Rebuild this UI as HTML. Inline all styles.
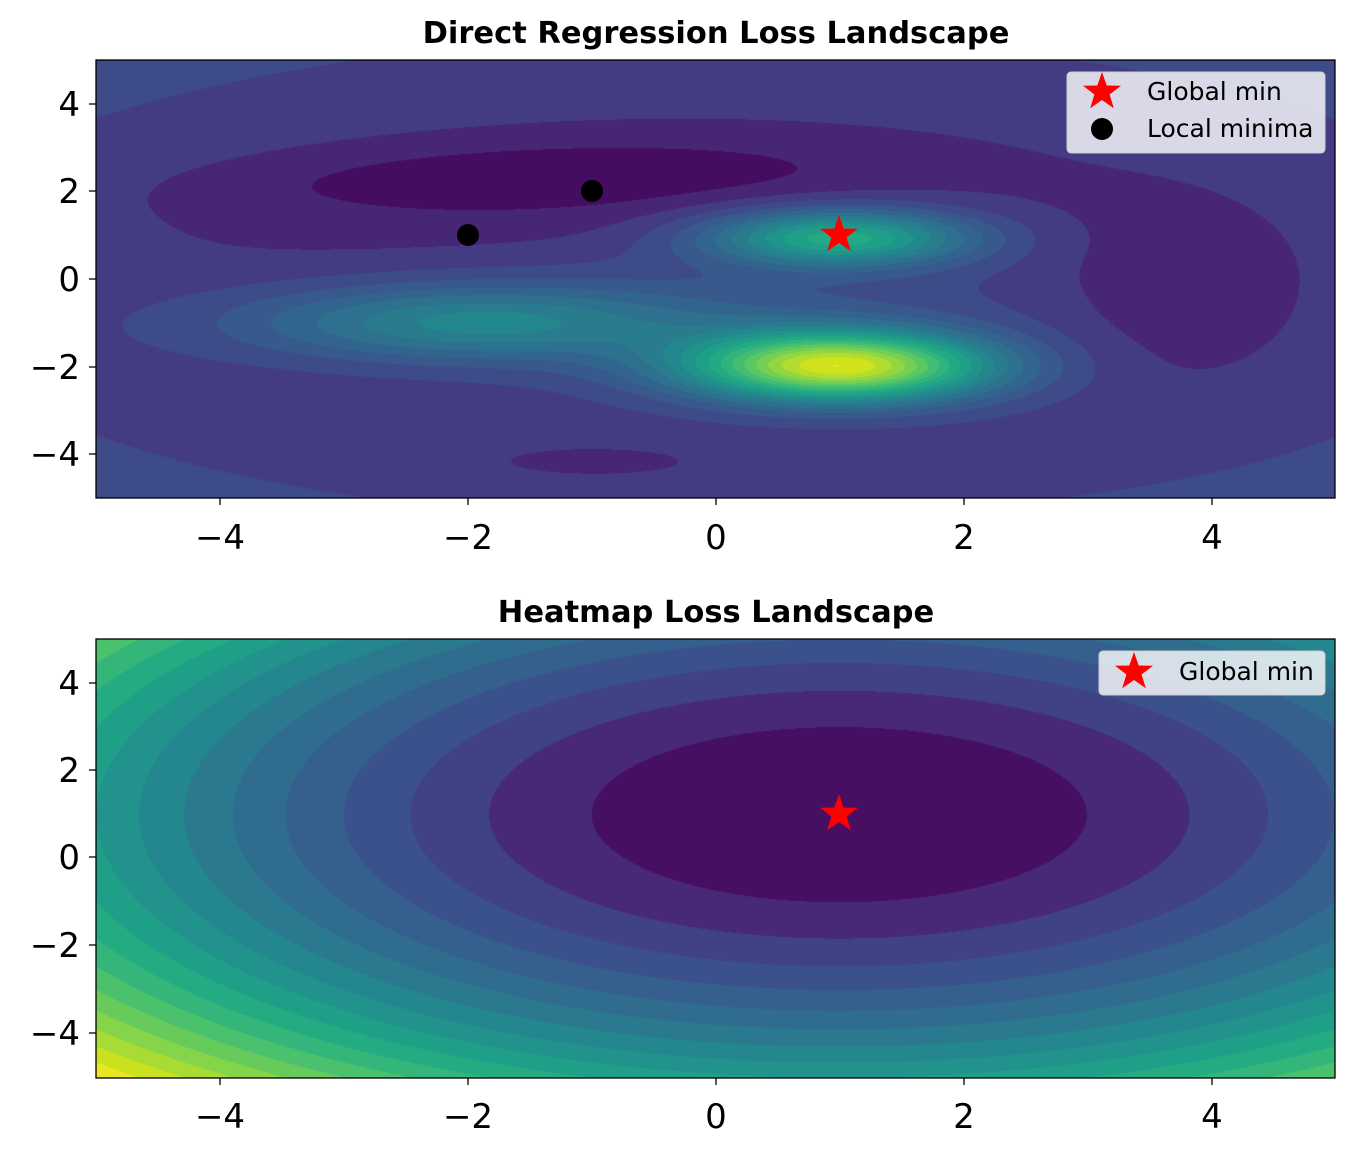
<!DOCTYPE html>
<html><head><meta charset="utf-8"><style>
body{margin:0;background:#fff;width:1356px;height:1155px;overflow:hidden;position:relative;font-family:"Liberation Sans","DejaVu Sans",sans-serif}
canvas{position:absolute}
svg{position:absolute;left:0;top:0}
</style></head><body>
<canvas id="c1" width="1239" height="438" style="left:96px;top:60px"></canvas>
<canvas id="c2" width="1239" height="439" style="left:96px;top:639px"></canvas>
<svg width="1356" height="1155" font-family="DejaVu Sans, Liberation Sans, sans-serif">
<g fill="none" stroke="#000" stroke-width="1.3">
<rect x="96" y="60" width="1239" height="438"/>
<rect x="96" y="639" width="1239" height="439"/>
</g>
<g stroke="#000" stroke-width="1.3">
<line x1="220" y1="498" x2="220" y2="505"/><line x1="468" y1="498" x2="468" y2="505"/><line x1="716" y1="498" x2="716" y2="505"/><line x1="964" y1="498" x2="964" y2="505"/><line x1="1212" y1="498" x2="1212" y2="505"/>
<line x1="89" y1="104" x2="96" y2="104"/><line x1="89" y1="191" x2="96" y2="191"/><line x1="89" y1="279" x2="96" y2="279"/><line x1="89" y1="367" x2="96" y2="367"/><line x1="89" y1="454" x2="96" y2="454"/>
<line x1="220" y1="1078" x2="220" y2="1085"/><line x1="468" y1="1078" x2="468" y2="1085"/><line x1="716" y1="1078" x2="716" y2="1085"/><line x1="964" y1="1078" x2="964" y2="1085"/><line x1="1212" y1="1078" x2="1212" y2="1085"/>
<line x1="89" y1="683" x2="96" y2="683"/><line x1="89" y1="770" x2="96" y2="770"/><line x1="89" y1="857" x2="96" y2="857"/><line x1="89" y1="945" x2="96" y2="945"/><line x1="89" y1="1033" x2="96" y2="1033"/>
</g>
<g font-size="34" fill="#000" text-anchor="middle">
<text x="220" y="549">−4</text><text x="468" y="549">−2</text><text x="716" y="549">0</text><text x="964" y="549">2</text><text x="1212" y="549">4</text>
<text x="220" y="1128">−4</text><text x="468" y="1128">−2</text><text x="716" y="1128">0</text><text x="964" y="1128">2</text><text x="1212" y="1128">4</text>
</g>
<g font-size="34" fill="#000" text-anchor="end">
<text x="80" y="116">4</text><text x="80" y="203">2</text><text x="80" y="291">0</text><text x="80" y="379">−2</text><text x="80" y="466">−4</text>
<text x="80" y="695">4</text><text x="80" y="782">2</text><text x="80" y="869">0</text><text x="80" y="957">−2</text><text x="80" y="1045">−4</text>
</g>
<g font-size="30.5" font-weight="bold" text-anchor="middle">
<text x="716" y="43">Direct Regression Loss Landscape</text>
<text x="716" y="622">Heatmap Loss Landscape</text>
</g>
<defs><polygon id="star" points="0,-20 4.7,-6.5 19,-6.2 7.6,2.5 11.8,16.2 0,8 -11.8,16.2 -7.6,2.5 -19,-6.2 -4.7,-6.5"/></defs>
<use href="#star" x="839" y="235" fill="#f00"/>
<circle cx="468" cy="235" r="11" fill="#000"/>
<circle cx="592" cy="191" r="11" fill="#000"/>
<use href="#star" x="839" y="814" fill="#f00"/>
<rect x="1067" y="72" width="258" height="81" rx="4" fill="#fff" fill-opacity="0.8" stroke="#ccc"/>
<use href="#star" x="1102" y="92" fill="#f00"/>
<circle cx="1102" cy="129" r="11" fill="#000"/>
<text x="1147" y="100" font-size="25">Global min</text>
<text x="1147" y="137" font-size="25">Local minima</text>
<rect x="1099" y="651" width="226" height="44" rx="4" fill="#fff" fill-opacity="0.8" stroke="#ccc"/>
<use href="#star" x="1134" y="672" fill="#f00"/>
<text x="1179" y="680" font-size="25">Global min</text>
</svg>
<script>
var V=[[68,1,84],[72,36,117],[65,68,135],[57,86,140],[49,104,142],[42,120,142],[35,137,142],[31,154,138],[34,168,132],[53,183,121],[84,197,104],[122,209,81],[165,219,54],[210,226,27],[253,231,37]];
function vir(t){t=Math.max(0,Math.min(1,t))*(V.length-1);var i=Math.floor(t);if(i>=V.length-1)return V[V.length-1];var f=t-i,a=V[i],b=V[i+1];return[a[0]+(b[0]-a[0])*f,a[1]+(b[1]-a[1])*f,a[2]+(b[2]-a[2])*f];}
function draw(id,f,lv,vmin,vmax){var c=document.getElementById(id),g=c.getContext('2d'),W=c.width,H=c.height,im=g.createImageData(W,H),d=im.data;
for(var j=0;j<H;j++){var y=5-10*j/(H-1);for(var i=0;i<W;i++){var x=-5+10*i/(W-1);var v=f(x,y);var k=Math.floor((v-vmin)/(vmax-vmin)*lv);k=Math.max(0,Math.min(lv-1,k));var col=vir((k+0.5)/lv);var p=(j*W+i)*4;d[p]=col[0];d[p+1]=col[1];d[p+2]=col[2];d[p+3]=255;}}
g.putImageData(im,0,0);}
function G(x,y,cx,cy,sx,sy){return Math.exp(-((x-cx)*(x-cx)/(2*sx*sx)+(y-cy)*(y-cy)/(2*sy*sy)));}
draw('c1',function(x,y){var v=0.075+0.002*(x*x+y*y*1.4);
v-=0.08*Math.exp(-(Math.pow((x+1.3)-(y-2.4)*0.9,2)/4+Math.pow(y-2.4,2)/0.45));
v-=0.04*G(x,y,-1.5,1.8,2.2,0.9);
v-=0.06*G(x,y,3.7,-0.5,0.8,1.5);
v-=0.05*G(x,y,-1,-4.2,0.6,0.25);
v+=0.85*G(x,y,1,-2,0.85,0.55);
v+=0.5*G(x,y,1,0.95,0.75,0.45);
v+=0.3*G(x,y,-2,-1,1.3,0.6);
v+=0.12*G(x,y,0.3,-0.8,2.2,1.5);
return v;},20,0,1.08);
draw('c2',function(x,y){return (x-1)*(x-1)+(y-1)*(y-1);},18,0,72);
</script>
</body></html>
